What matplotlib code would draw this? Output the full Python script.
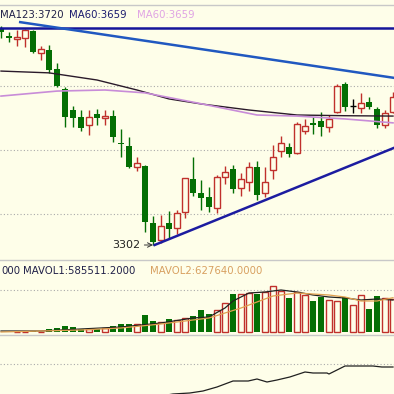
import matplotlib
matplotlib.use('Agg')
import matplotlib.pyplot as plt

# daily candles (price)
opens = [3907, 3887, 3879, 3882, 3901, 3840, 3848, 3795, 3739, 3680,
         3660, 3638, 3669, 3658, 3663, 3588, 3579, 3520, 3523, 3364,
         3316, 3364, 3350, 3394, 3487, 3448, 3436, 3406, 3492, 3515,
         3462, 3478, 3520, 3448, 3512, 3565, 3576, 3560, 3621, 3644,
         3649, 3632, 3674, 3753, 3691, 3686, 3702, 3683, 3638, 3674]
closes = [3898, 3882, 3884, 3904, 3842, 3851, 3792, 3747, 3660, 3658,
          3630, 3660, 3658, 3663, 3604, 3585, 3520, 3532, 3366, 3310,
          3355, 3347, 3392, 3490, 3448, 3434, 3408, 3492, 3506, 3459,
          3487, 3520, 3442, 3478, 3548, 3588, 3557, 3641, 3635, 3638,
          3632, 3655, 3747, 3688, 3691, 3700, 3688, 3638, 3672, 3716]
highs = [3915, 3898, 3904, 3907, 3904, 3859, 3862, 3812, 3744, 3691,
         3680, 3680, 3683, 3680, 3680, 3627, 3604, 3548, 3526, 3383,
         3386, 3397, 3400, 3490, 3548, 3484, 3464, 3498, 3523, 3526,
         3504, 3534, 3537, 3520, 3582, 3607, 3588, 3646, 3655, 3660,
         3674, 3666, 3753, 3758, 3711, 3728, 3716, 3688, 3680, 3730]
lows = [3882, 3870, 3859, 3856, 3840, 3820, 3784, 3744, 3632, 3632,
        3621, 3610, 3638, 3638, 3590, 3548, 3518, 3509, 3338, 3302,
        3308, 3322, 3333, 3378, 3439, 3400, 3394, 3392, 3473, 3448,
        3439, 3453, 3428, 3436, 3487, 3548, 3548, 3557, 3613, 3613,
        3607, 3618, 3671, 3677, 3672, 3672, 3683, 3630, 3630, 3672]
vols = [5000, 5000, 5000, 5000, 18300, 9000, 54900, 73200, 109800, 91500,
        54900, 54900, 54900, 73200, 109800, 146400, 146400, 146400, 311100, 201300,
        183000, 237900, 219600, 256200, 292800, 402600, 329400, 402600, 530700, 695400,
        695400, 713700, 695400, 732000, 841800, 750300, 622200, 732000, 677100, 567300,
        640500, 585600, 567300, 640500, 494100, 677100, 420900, 658800, 622200, 603900]

# moving-average lines (index, value)
ma_dark_idx = [0, 6, 12, 17, 21, 25, 31, 37, 43, 49]
ma_dark = [3789, 3784, 3764, 3736, 3711, 3697, 3680, 3666, 3664, 3663]
ma_pink_idx = [0, 7, 13, 18, 24, 32, 37, 43, 49]
ma_pink = [3719, 3733, 3736, 3728, 3702, 3666, 3663, 3655, 3644]

mavol1_idx = [0, 5, 10, 15, 20, 24, 26, 28, 29, 31, 33, 35, 37, 39, 41, 43, 45, 47, 49]
mavol1 = [18300, 18300, 54900, 91500, 164700, 256200, 274500, 439200, 567300, 713700,
          732000, 768600, 732000, 677100, 640500, 622200, 585600, 603900, 585511]
mavol2_idx = [0, 10, 15, 20, 24, 26, 28, 30, 32, 34, 36, 37, 39, 41, 43, 45, 47, 49]
mavol2 = [0, 36600, 73200, 146400, 219600, 256200, 347700, 439200, 549000, 658800,
          695400, 713700, 695400, 677100, 640500, 567300, 567300, 627640]

ind_idx = [18, 20, 21.5, 23.6, 25.25, 27, 29, 30.9, 32, 33.25, 34.5, 36.1, 38, 39,
           40.75, 41, 43, 45.25, 46.5, 47.6, 49]
ind = [-6, -2, 0, 1, 3, 7, 13, 13, 15, 12, 14, 17, 22, 21, 21, 20, 28, 28, 28, 27, 27]

bg = '#fefee9'
red = '#c0302c'
green = '#046f04'
W, H = 394, 394

fig = plt.figure(figsize=(3.94, 3.94), dpi=100, facecolor=bg)

def pax(top, bottom):
    ax = fig.add_axes([0, (H - bottom) / H, 1, (bottom - top) / H], facecolor=bg)
    for s in ax.spines.values():
        s.set_visible(False)
    ax.set_xticks([])
    ax.set_yticks([])
    ax.set_xlim(-0.125, 49.125)
    return ax

ax = pax(5, 260)
ax.set_ylim(3260, 3974)
for yv in [3747, 3568, 3389]:
    ax.axhline(yv, color='#aaaaaa', lw=0.8, ls=(0, (1, 2)))

for i in range(len(opens)):
    o, c, h, l = opens[i], closes[i], highs[i], lows[i]
    if o == c:
        ax.vlines(i, l, h, color='black', lw=1)
        ax.hlines(o, i - 0.35, i + 0.35, color='black', lw=1)
    elif c > o:
        ax.vlines(i, l, h, color=red, lw=1, zorder=2)
        ax.bar(i, c - o, bottom=o, width=0.65, facecolor=bg, edgecolor=red, lw=1, zorder=3)
    else:
        ax.vlines(i, l, h, color=green, lw=1, zorder=2)
        ax.bar(i, o - c, bottom=c, width=0.7, color=green, zorder=3)

ax.plot(ma_dark_idx, ma_dark, color='#2a1a2a', lw=1, zorder=4)
ax.plot(ma_pink_idx, ma_pink, color='#c88cd8', lw=1.2, zorder=4)

# trend lines
ax.axhline(3910, color='#15159a', lw=1.8, zorder=5)
ax.plot([2.4, 49.125], [3926, 3770], color='#2058c0', lw=1.8, zorder=5)
ax.plot([19.2, 49.125], [3302, 3574], color='#1c1ca0', lw=1.8, zorder=5)
ax.annotate('3302', xy=(19.0, 3302), xytext=(17.4, 3302), ha='right', va='center',
            fontsize=8, color='#222222',
            arrowprops=dict(arrowstyle='->', color='#333333', lw=0.7, shrinkA=1, shrinkB=0))

vax = pax(260, 335)
vax.set_ylim(-54900, 1317600)
vax.axhline(768600, color='#aaaaaa', lw=0.8, ls=(0, (1, 2)))
for i, v in enumerate(vols):
    if closes[i] >= opens[i]:
        vax.bar(i, v, width=0.7, facecolor=bg, edgecolor=red, lw=1)
    else:
        vax.bar(i, v, width=0.75, color=green)
vax.plot(mavol1_idx, mavol1, color='#202020', lw=0.9)
vax.plot(mavol2_idx, mavol2, color='#e0a050', lw=0.9)

iax = pax(335, 394)
iax.set_ylim(0, 59)
iax.axhline(30, color='#aaaaaa', lw=0.8, ls=(0, (1, 2)))
iax.plot(ind_idx, ind, color='#202020', lw=0.9)

for yy in [5, 260, 335]:
    fig.add_artist(plt.Line2D([0, 1], [1 - yy / H, 1 - yy / H], color='#c8c8c8', lw=1))

fs = 7.3
def ftext(x, y, s, c, ha='left'):
    fig.text(x / W, 1 - y / H, s, color=c, fontsize=fs, ha=ha, va='center')

ftext(0, 15, 'MA123:3720', '#202048')
ftext(69, 15, 'MA60:3659', '#1a1a6e')
ftext(137, 15, 'MA60:3659', '#e0a4e4')
ftext(1, 271, '000', '#202048')
ftext(23, 271, 'MAVOL1:585511.2000', '#202048')
ftext(150, 271, 'MAVOL2:627640.0000', '#d8a060')

fig.savefig('out.png', dpi=100, facecolor=bg)
